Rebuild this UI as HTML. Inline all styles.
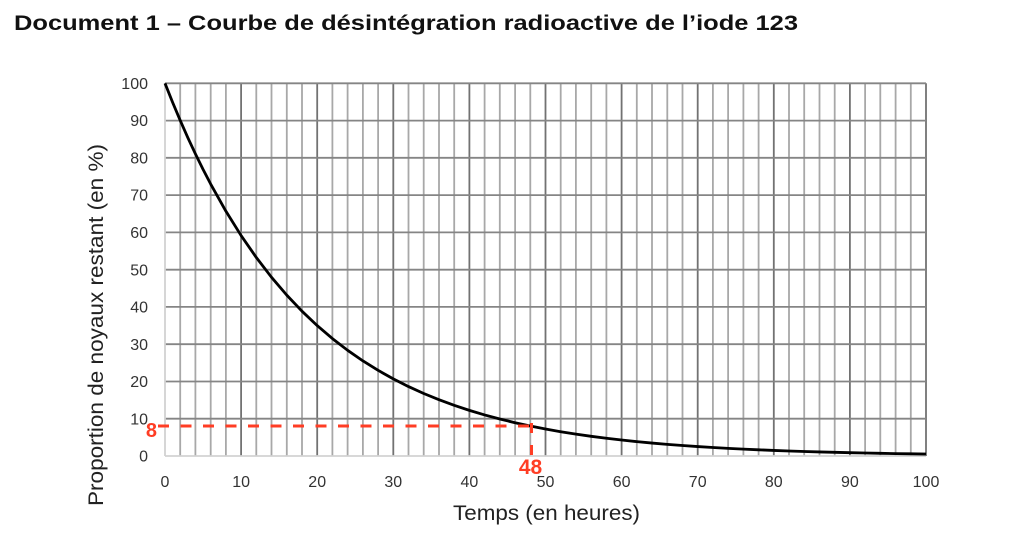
<!DOCTYPE html>
<html><head><meta charset="utf-8">
<style>
html,body{margin:0;padding:0;background:#fff;}
svg{display:block;}
text{font-family:"Liberation Sans",Arial,sans-serif;}
</style></head>
<body>
<svg width="1024" height="539" viewBox="0 0 1024 539" xmlns="http://www.w3.org/2000/svg">
<rect width="1024" height="539" fill="#fff"/>
<text x="14" y="30" font-size="21" font-weight="bold" fill="#111" textLength="784" lengthAdjust="spacingAndGlyphs">Document 1 – Courbe de désintégration radioactive de l’iode 123</text>

<!-- grid -->
<g stroke-width="1.8" fill="none">
  <!-- minor verticals -->
  <g stroke="#a8a8a8">
    <line x1="180.2" y1="83.3" x2="180.2" y2="456"/><line x1="195.4" y1="83.3" x2="195.4" y2="456"/><line x1="210.7" y1="83.3" x2="210.7" y2="456"/><line x1="225.9" y1="83.3" x2="225.9" y2="456"/>
    <line x1="256.3" y1="83.3" x2="256.3" y2="456"/><line x1="271.5" y1="83.3" x2="271.5" y2="456"/><line x1="286.8" y1="83.3" x2="286.8" y2="456"/><line x1="302" y1="83.3" x2="302" y2="456"/>
    <line x1="332.4" y1="83.3" x2="332.4" y2="456"/><line x1="347.6" y1="83.3" x2="347.6" y2="456"/><line x1="362.9" y1="83.3" x2="362.9" y2="456"/><line x1="378.1" y1="83.3" x2="378.1" y2="456"/>
    <line x1="408.5" y1="83.3" x2="408.5" y2="456"/><line x1="423.7" y1="83.3" x2="423.7" y2="456"/><line x1="439" y1="83.3" x2="439" y2="456"/><line x1="454.2" y1="83.3" x2="454.2" y2="456"/>
    <line x1="484.6" y1="83.3" x2="484.6" y2="456"/><line x1="499.8" y1="83.3" x2="499.8" y2="456"/><line x1="515.1" y1="83.3" x2="515.1" y2="456"/><line x1="530.3" y1="83.3" x2="530.3" y2="456"/>
    <line x1="560.7" y1="83.3" x2="560.7" y2="456"/><line x1="575.9" y1="83.3" x2="575.9" y2="456"/><line x1="591.2" y1="83.3" x2="591.2" y2="456"/><line x1="606.4" y1="83.3" x2="606.4" y2="456"/>
    <line x1="636.8" y1="83.3" x2="636.8" y2="456"/><line x1="652" y1="83.3" x2="652" y2="456"/><line x1="667.3" y1="83.3" x2="667.3" y2="456"/><line x1="682.5" y1="83.3" x2="682.5" y2="456"/>
    <line x1="712.9" y1="83.3" x2="712.9" y2="456"/><line x1="728.1" y1="83.3" x2="728.1" y2="456"/><line x1="743.4" y1="83.3" x2="743.4" y2="456"/><line x1="758.6" y1="83.3" x2="758.6" y2="456"/>
    <line x1="789" y1="83.3" x2="789" y2="456"/><line x1="804.2" y1="83.3" x2="804.2" y2="456"/><line x1="819.5" y1="83.3" x2="819.5" y2="456"/><line x1="834.7" y1="83.3" x2="834.7" y2="456"/>
    <line x1="865.1" y1="83.3" x2="865.1" y2="456"/><line x1="880.3" y1="83.3" x2="880.3" y2="456"/><line x1="895.6" y1="83.3" x2="895.6" y2="456"/><line x1="910.8" y1="83.3" x2="910.8" y2="456"/>
  </g>
  <!-- major verticals -->
  <g stroke="#727272">
    <line x1="241.1" y1="83.3" x2="241.1" y2="456"/><line x1="317.2" y1="83.3" x2="317.2" y2="456"/><line x1="393.3" y1="83.3" x2="393.3" y2="456"/><line x1="469.4" y1="83.3" x2="469.4" y2="456"/>
    <line x1="545.5" y1="83.3" x2="545.5" y2="456"/><line x1="621.6" y1="83.3" x2="621.6" y2="456"/><line x1="697.7" y1="83.3" x2="697.7" y2="456"/><line x1="773.8" y1="83.3" x2="773.8" y2="456"/>
    <line x1="849.9" y1="83.3" x2="849.9" y2="456"/><line x1="926" y1="83.3" x2="926" y2="456"/>
  </g>
  <!-- horizontals -->
  <g stroke="#858585">
    <line x1="165" y1="83.3" x2="926" y2="83.3"/><line x1="165" y1="120.6" x2="926" y2="120.6"/><line x1="165" y1="157.8" x2="926" y2="157.8"/>
    <line x1="165" y1="195.1" x2="926" y2="195.1"/><line x1="165" y1="232.4" x2="926" y2="232.4"/><line x1="165" y1="269.7" x2="926" y2="269.7"/>
    <line x1="165" y1="306.9" x2="926" y2="306.9"/><line x1="165" y1="344.2" x2="926" y2="344.2"/><line x1="165" y1="381.5" x2="926" y2="381.5"/>
    <line x1="165" y1="418.7" x2="926" y2="418.7"/>
  </g>
  <!-- axes -->
  <g stroke="#d2d2d2">
    <line x1="165" y1="83.3" x2="165" y2="456"/>
    <line x1="165" y1="456" x2="926" y2="456"/>
  </g>
</g>

<!-- y tick labels -->
<g font-size="16" fill="#333" text-anchor="end">
  <text x="148" y="89">100</text><text x="148" y="126.2">90</text><text x="148" y="163.4">80</text>
  <text x="148" y="200.7">70</text><text x="148" y="238">60</text><text x="148" y="275.3">50</text>
  <text x="148" y="312.5">40</text><text x="148" y="349.8">30</text><text x="148" y="387.1">20</text>
  <text x="148" y="424.3">10</text><text x="148" y="461.6">0</text>
</g>
<!-- x tick labels -->
<g font-size="16" fill="#333" text-anchor="middle">
  <text x="165" y="487">0</text><text x="241.1" y="487">10</text><text x="317.2" y="487">20</text>
  <text x="393.3" y="487">30</text><text x="469.4" y="487">40</text><text x="545.5" y="487">50</text>
  <text x="621.6" y="487">60</text><text x="697.7" y="487">70</text><text x="773.8" y="487">80</text>
  <text x="849.9" y="487">90</text><text x="926" y="487">100</text>
</g>

<!-- curve -->
<g transform="translate(165,456) scale(7.61,-3.727)">
<polyline fill="none" stroke="#000" stroke-width="2.8" vector-effect="non-scaling-stroke" stroke-linejoin="round"
points="0,100 1,94.88 2,90.03 3,85.42 4,81.054 5,76.9 6,72.973 8,65.698 10,59.148 12,53.251 14,47.942 16,43.162 18,38.859 20,34.985 22,31.497 24,28.357 26,25.530 28,22.985 30,20.693 32,18.630 34,16.773 36,15.101 38,13.595 40,12.240 42,11.020 44,9.921 46,8.932 48,8.041 50,7.240 52,6.518 54,5.868 56,5.283 58,4.756 60,4.282 62,3.855 64,3.471 66,3.125 68,2.813 70,2.533 72,2.280 74,2.053 76,1.848 78,1.664 80,1.498 82,1.349 84,1.214 86,1.093 88,0.984 90,0.886 92,0.798 94,0.718 96,0.647 98,0.582 100,0.524"/>
</g>

<!-- red annotations -->
<line x1="158" y1="426" x2="531" y2="426" stroke="#ff3d24" stroke-width="3" stroke-dasharray="11 11.5"/>
<line x1="531.5" y1="423" x2="531.5" y2="457" stroke="#ff3d24" stroke-width="3" stroke-dasharray="10 12"/>
<text x="157" y="437" font-size="20" font-weight="bold" fill="#ff3d24" text-anchor="end">8</text>
<text x="530.5" y="474" font-size="21" font-weight="bold" fill="#ff3d24" text-anchor="middle">48</text>

<!-- axis titles -->
<text x="546.5" y="520" font-size="21" fill="#222" text-anchor="middle" textLength="187" lengthAdjust="spacingAndGlyphs">Temps (en heures)</text>
<text transform="translate(103,325) rotate(-90)" font-size="21" fill="#222" text-anchor="middle" textLength="362" lengthAdjust="spacingAndGlyphs">Proportion de noyaux restant (en %)</text>
</svg>
</body></html>
